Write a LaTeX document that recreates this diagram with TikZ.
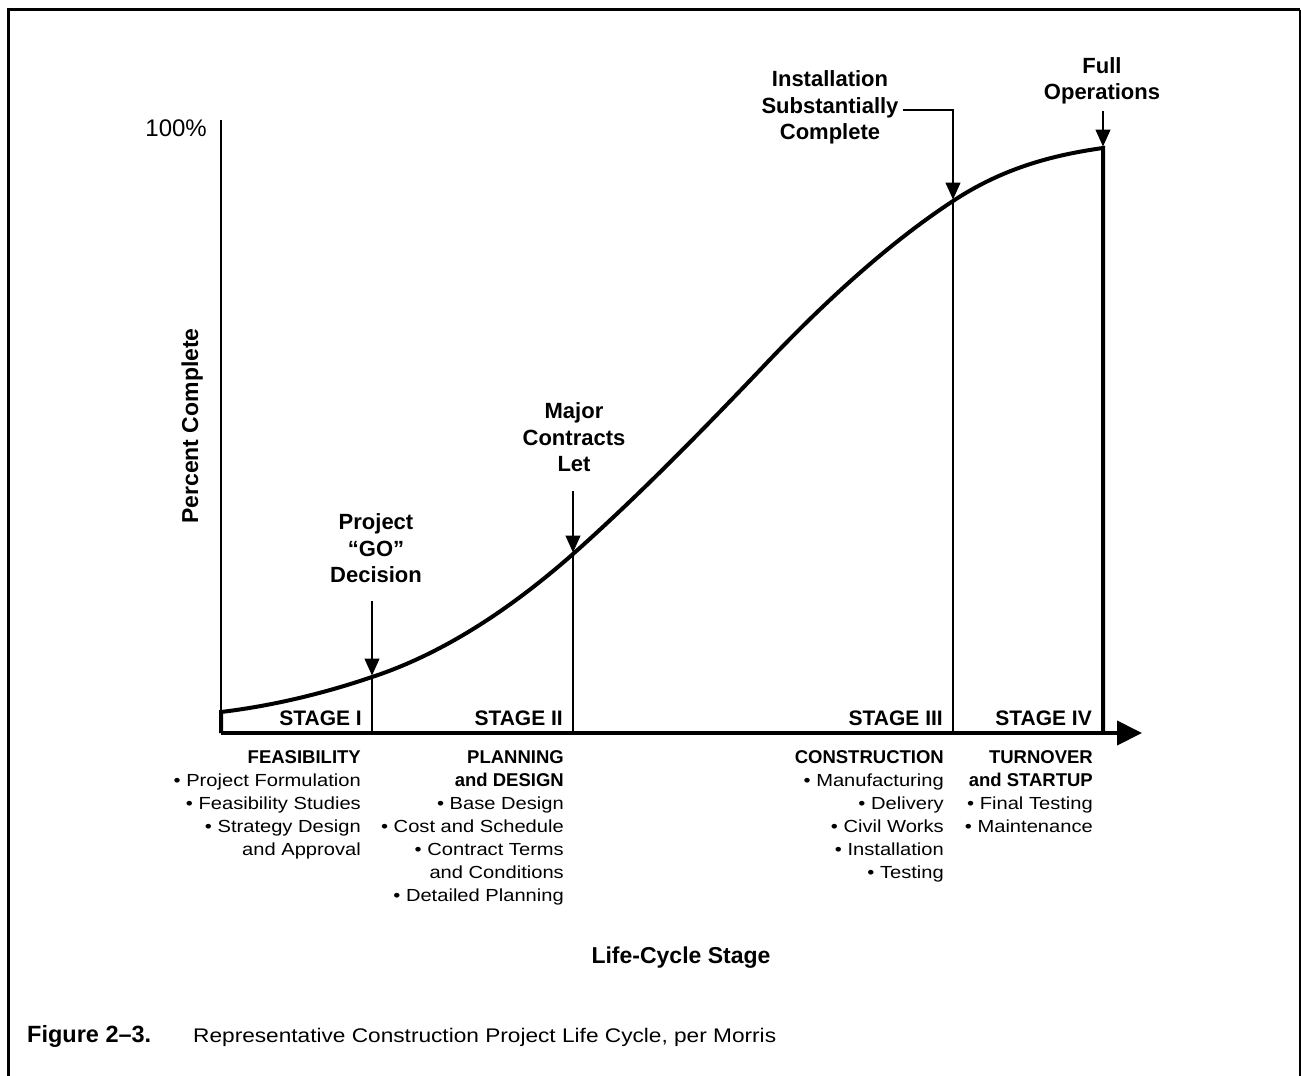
\documentclass[tikz,border=0pt]{standalone}
\usepackage{fontspec}
\setmainfont{Liberation Sans}
\newfontfamily\widefont[FakeStretch=1.15]{Liberation Sans}
\usetikzlibrary{arrows.meta}
\newcommand\colhead[1]{{\normalfont\bfseries\fontsize{18.5}{23}\selectfont #1}}
\begin{document}
\begin{tikzpicture}[x=1pt,y=-1pt,
  thinline/.style={line width=1.3pt},
  thickline/.style={line width=4pt},
  marker/.style={thinline,shorten >=1.5pt,-{Triangle[width=15pt,length=17pt]}},
  event/.style={font=\bfseries\fontsize{22}{26.5}\selectfont,align=center,inner sep=0pt,anchor=south},
  stagelabel/.style={font=\bfseries\fontsize{21}{25}\selectfont,inner sep=0pt,anchor=base east},
  column/.style={font=\widefont\fontsize{17.5}{23}\selectfont,align=right,inner sep=0pt,anchor=north east}]
 \useasboundingbox (0,0) rectangle (1301,1076);
 \draw[line width=3pt] (8,1076) -- (8,9.5) -- (1300,9.5);
 \draw[line width=2pt] (1299.5,9.5) -- (1299.5,1076);
 \coordinate (origin) at (221,733);
 \coordinate (xend) at (1142,733);
 \coordinate (ytop) at (221,120);
 \coordinate (start) at (221,712);
 \coordinate (pI) at (372,677);
 \coordinate (pII) at (573,554);
 \coordinate (mid) at (760,370);
 \coordinate (pIII) at (953,201);
 \coordinate (pIV) at (1103,148);
 \draw[thinline] (ytop) -- (origin);
 \draw[thinline] (pI) -- (pI |- origin);
 \draw[thinline] (pII) -- (pII |- origin);
 \draw[thinline] (pIII) -- (pIII |- origin);
 \draw[thickline] (origin) -- (start) .. controls (271,706) and (322,694) .. (pI)
   .. controls (439,655) and (506,613) .. (pII)
   .. controls (635,499) and (698,435) .. (mid)
   .. controls (824,302) and (889,243) .. (pIII)
   .. controls (1003,168) and (1053,155) .. (pIV) -- (pIV |- origin);
 \draw[thickline,-{Triangle[width=24pt,length=25pt]}] (origin) -- (xend);
 \node[font=\fontsize{24}{28}\selectfont,anchor=base east,inner sep=0pt] (top) at (207,136) {100\%};
 \node[font=\bfseries\fontsize{23}{27}\selectfont,rotate=90,anchor=base,inner sep=0pt] (ylabel) at (198,426) {Percent Complete};
 \node[event] (go) at (376,583) {Project\\“GO”\\Decision};
 \node[event] (major) at (574,472) {Major\\Contracts\\Let};
 \node[event] (inst) at (830,144.6) {Installation\\Substantially\\Complete};
 \node[event] (full) at (1102,104.6) {Full\\Operations};
 \draw[marker,shorten <=18pt] (go.south -| pI) -- (pI);
 \draw[marker,shorten <=19pt] (major.south -| pII) -- (pII);
 \draw[marker] ([xshift=4pt,yshift=-2.5pt]inst.east) -| (pIII);
 \draw[marker,shorten <=6pt] (full.south -| pIV) -- (pIV);
 \node[stagelabel] (sI) at (362,725) {STAGE I};
 \node[stagelabel] (sII) at (563,725) {STAGE II};
 \node[stagelabel] (sIII) at (943,725) {STAGE III};
 \node[stagelabel] (sIV) at (1092,725) {STAGE IV};
 \node[column] (feas) at (361,750) {\colhead{FEASIBILITY}\\• Project Formulation\\• Feasibility Studies\\• Strategy Design\\and Approval};
 \node[column] (plan) at (564,750) {\colhead{PLANNING}\\\colhead{and DESIGN}\\• Base Design\\• Cost and Schedule\\• Contract Terms\\and Conditions\\• Detailed Planning};
 \node[column] (cons) at (944,750) {\colhead{CONSTRUCTION}\\• Manufacturing\\• Delivery\\• Civil Works\\• Installation\\• Testing};
 \node[column] (turn) at (1093,750) {\colhead{TURNOVER}\\\colhead{and STARTUP}\\• Final Testing\\• Maintenance};
 \node[font=\bfseries\fontsize{23}{27}\selectfont,anchor=base,inner sep=0pt] (xlabel) at (681,963) {Life-Cycle Stage};
 \node[font=\bfseries\fontsize{23.5}{27}\selectfont,anchor=base west,inner sep=0pt] (figno) at (27,1042) {Figure 2–3.};
 \node[font=\widefont\fontsize{19.7}{24}\selectfont,anchor=base west,inner sep=0pt] (figtitle) at (193,1042) {Representative Construction Project Life Cycle, per Morris};
\end{tikzpicture}
\end{document}
